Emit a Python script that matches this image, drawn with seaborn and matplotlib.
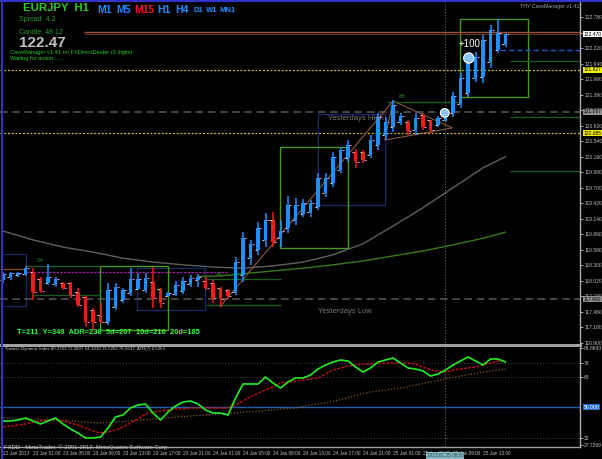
import matplotlib
matplotlib.use("Agg")
import matplotlib.pyplot as plt
import matplotlib.transforms as mtransforms
from matplotlib.lines import Line2D
from matplotlib.patches import Rectangle, Polygon
import seaborn as sns

# EURJPY H1 candles, 22 Jan 21:00 -> 25 Jan 16:00 (68 bars)
opens = [118.037, 118.091, 118.127, 118.145, 118.181, 118.055, 117.982, 117.964, 117.982, 117.982,
         117.820, 117.730, 117.495, 117.405, 117.279, 117.549, 117.676, 117.802, 117.874, 117.856,
         118.001, 117.874, 117.748, 117.784, 117.838, 117.964, 118.037, 118.019, 117.982, 117.892,
         117.856, 117.820, 118.127, 118.433, 118.578, 118.758, 119.119, 118.794, 118.974, 119.119,
         119.227, 119.263, 119.353, 119.606, 119.786, 120.021, 120.237, 120.345, 120.345, 120.291,
         120.471, 120.652, 120.796, 120.886, 120.886, 120.742, 121.013, 120.922, 120.832, 120.922,
         121.049, 121.211, 121.409, 121.680, 121.698, 121.969, 122.185, 122.293]
highs = [118.181, 118.181, 118.181, 118.289, 118.253, 118.091, 118.325, 118.091, 118.001, 118.001,
         117.892, 117.748, 117.531, 117.621, 117.982, 117.982, 117.892, 118.253, 118.163, 118.163,
         118.271, 117.892, 117.820, 118.019, 118.091, 118.127, 118.145, 118.091, 118.037, 117.910,
         117.874, 118.451, 118.902, 118.758, 119.083, 119.245, 119.263, 119.119, 119.552, 119.515,
         119.497, 119.479, 119.966, 119.966, 120.345, 120.435, 120.562, 120.399, 120.381, 120.652,
         121.049, 120.977, 121.283, 121.049, 120.922, 121.049, 121.049, 120.922, 120.995, 121.103,
         121.427, 121.770, 122.131, 122.149, 122.456, 122.636, 122.744, 122.492]
lows = [117.982, 118.037, 118.091, 118.109, 117.676, 117.802, 117.946, 117.910, 117.856, 117.712,
        117.549, 117.189, 117.135, 117.261, 117.225, 117.495, 117.621, 117.748, 117.856, 117.802,
        117.531, 117.531, 117.730, 117.748, 117.784, 117.910, 117.910, 117.856, 117.621, 117.549,
        117.694, 117.766, 118.001, 118.307, 118.487, 118.632, 118.632, 118.632, 118.884, 119.028,
        119.173, 119.173, 119.299, 119.534, 119.714, 119.966, 120.165, 120.057, 120.147, 120.237,
        120.381, 120.562, 120.706, 120.832, 120.652, 120.652, 120.742, 120.688, 120.796, 120.886,
        120.977, 121.139, 121.337, 121.608, 121.590, 121.860, 122.131, 122.239]
closes = [118.145, 118.163, 118.163, 118.253, 117.820, 117.838, 118.091, 118.055, 117.892, 117.766,
          117.585, 117.279, 117.279, 117.279, 117.856, 117.910, 117.856, 118.055, 118.055, 118.073,
          117.712, 117.621, 117.802, 117.946, 118.019, 118.073, 118.091, 117.892, 117.712, 117.694,
          117.748, 118.361, 118.794, 118.686, 118.974, 119.119, 118.722, 118.920, 119.389, 119.389,
          119.425, 119.425, 119.876, 119.876, 120.255, 120.381, 120.471, 120.165, 120.201, 120.562,
          120.977, 120.886, 121.193, 120.995, 120.724, 120.959, 120.796, 120.742, 120.959, 121.067,
          121.355, 121.680, 122.041, 122.059, 122.365, 122.546, 122.492, 122.470]
bars = list(range(len(closes)))

# moving averages on the price chart (sampled every 4 bars)
ma_bars = [0, 4, 8, 12, 16, 20, 24, 28, 32, 36, 40, 44, 48, 52, 56, 60, 64, 67]
grey_ma = [118.92, 118.76, 118.63, 118.54, 118.43, 118.36, 118.31, 118.27, 118.25, 118.29,
           118.36, 118.49, 118.69, 119.01, 119.34, 119.70, 120.06, 120.26]
green_ma_bars = [26, 29, 32, 36, 40, 44, 48, 52, 56, 60, 64, 67]
green_ma = [118.10, 118.11, 118.15, 118.20, 118.25, 118.31, 118.38, 118.47, 118.56, 118.67, 118.79, 118.90]

# Traders Dynamic Index
tdi_green = [41.87, 41.87, 42.46, 43.64, 41.87, 40.10, 41.87, 43.64, 40.10, 37.16,
             34.80, 31.85, 31.85, 32.44, 37.74, 44.23, 45.40, 49.53, 51.30, 51.88,
             46.58, 42.46, 47.17, 50.71, 53.06, 53.65, 51.88, 48.35, 46.58, 46.58,
             45.40, 55.42, 63.67, 63.67, 63.67, 67.79, 64.26, 61.31, 64.85, 67.20,
             67.20, 68.97, 72.51, 74.86, 76.63, 77.81, 77.22, 73.69, 70.74, 73.10,
             76.63, 77.81, 78.99, 76.04, 73.10, 72.51, 71.33, 68.38, 69.56, 71.92,
             74.86, 77.22, 79.58, 77.22, 74.86, 78.40, 78.40, 76.63]
tdi_red = [38.33, 38.92, 39.51, 40.10, 41.28, 41.87, 42.46, 42.46, 41.87, 40.69,
           39.51, 37.74, 35.98, 34.80, 35.39, 36.57, 38.33, 40.69, 43.05, 45.99,
           47.17, 47.76, 48.35, 48.94, 48.94, 49.53, 49.53, 49.53, 49.53, 49.53,
           49.53, 51.30, 53.65, 56.01, 58.37, 60.13, 61.90, 64.26, 64.85, 65.44,
           66.03, 66.62, 67.20, 69.56, 71.92, 73.10, 74.27, 74.86, 75.45, 75.45,
           76.04, 76.04, 76.04, 76.04, 76.04, 75.45, 73.69, 71.92, 71.33, 70.74,
           71.92, 72.51, 73.10, 73.69, 74.86, 76.04, 77.22, 77.81]
tdi_base = [43.64, 43.64, 43.35, 43.05, 43.05, 42.76, 42.46, 42.46, 42.16, 41.87,
            41.57, 41.28, 40.98, 40.69, 40.98, 41.28, 41.57, 41.87, 42.46, 42.76,
            43.05, 43.35, 43.64, 44.23, 44.52, 44.81, 45.11, 45.40, 45.70, 45.99,
            46.29, 46.58, 47.17, 47.47, 47.76, 48.06, 48.35, 48.94, 49.24, 49.53,
            50.41, 51.30, 51.88, 52.47, 53.36, 54.54, 55.71, 56.89, 58.07, 58.96,
            59.54, 60.13, 60.72, 61.31, 62.20, 63.08, 63.96, 64.85, 65.73, 66.62,
            67.50, 68.38, 69.27, 69.86, 70.74, 71.33, 71.92, 72.51]

# levels and boxes (price)
yellow_levels = [121.827, 120.685]
yesterday_high = 121.067
yesterday_low = 117.692
current_price = 122.470
# (bar from, bar to, price low, price high)
green_boxes = [(12.93, 22.0, 117.135, 118.289), (36.93, 46.0, 118.614, 120.435), (60.93, 70.0, 121.337, 122.744)]
blue_boxes = [(-0.15, 3.07, 117.567, 118.505), (17.87, 26.93, 117.495, 118.253), (42.0, 50.93, 119.389, 121.031)]
# (bar from, bar to, price)
pivot_lines = [(2.9, 12.9, 118.289), (4.0, 12.9, 117.766), (27.0, 37.0, 118.054), (27.0, 37.0, 117.586),
               (51.2, 61.0, 121.247), (67.6, 77.0, 121.987), (67.6, 77.0, 120.977), (67.6, 77.0, 120.000)]
pivot_labels = [(4.9, 118.34, "54"), (28.8, 118.09, "46"), (53.2, 121.30, "88")]
price_ticks = [116.900 + 0.28 * k for k in range(22)]
time_ticks = [0, 4, 8, 12, 16, 20, 24, 28, 32, 36, 40, 44, 48, 52, 56, 60, 64]
time_labels = ["22 Jan 2013", "23 Jan 01:00", "23 Jan 05:00", "23 Jan 09:00", "23 Jan 13:00",
               "23 Jan 17:00", "23 Jan 21:00", "24 Jan 01:00", "24 Jan 05:00", "24 Jan 09:00",
               "24 Jan 13:00", "24 Jan 17:00", "24 Jan 21:00", "25 Jan 01:00", "25 Jan 05:00",
               "25 Jan 09:00", "25 Jan 13:00"]
cursor_bar = 58.93

sns.set_style("dark", {"axes.facecolor": "black", "figure.facecolor": "black"})
plt.rcParams['font.family'] = ['Liberation Sans', 'DejaVu Sans']

W, H = 602, 459
fig = plt.figure(figsize=(W / 100, H / 100), dpi=100)
fig.patch.set_facecolor("black")
ax = fig.add_axes([0, 1 - 345 / H, 580 / W, 345 / H])
ind = fig.add_axes([0, 1 - 447 / H, 580 / W, 100 / H])
for a in (ax, ind):
    a.set_facecolor("black")
    a.set_xlim(-0.4, 76.93)
    a.grid(False)
    for s in ("top", "left"):
        a.spines[s].set_visible(False)
    a.spines["right"].set_color("#b0b0b0")
    a.spines["right"].set_linewidth(1)
    a.yaxis.tick_right()
    a.tick_params(axis="y", colors="#c0c0c0", labelsize=3.6, length=2, pad=1, width=0.6)
ax.set_ylim(116.864, 123.087)
ind.set_ylim(26.55, 85.47)
ax.spines["bottom"].set_color("#a0a0a0")
ax.spines["bottom"].set_linewidth(2.2)
ind.spines["bottom"].set_color("#a0a0a0")
ind.spines["bottom"].set_linewidth(1)

# price axis
ax.set_yticks(price_ticks)
ax.set_yticklabels([f"{t:.3f}" for t in price_ticks])
ax.set_xticks([])

# horizontal levels
for lv in yellow_levels:
    ax.axhline(lv, color="#d4c21a", lw=0.9, ls=(0, (1.5, 1.5)))
for lv in (yesterday_high, yesterday_low):
    ax.axhline(lv, color="#5a5a5a", lw=1.1, ls=(0, (5, 3)))
ax.hlines(122.505, 10.8, 77, color="#a0522d", lw=1)
ax.hlines(current_price, 10.8, 77, color="#5a3a20", lw=0.8)
ax.hlines(122.185, 66.3, 77, color="#1e50d0", lw=1, ls=(0, (4, 2)))
ax.hlines(118.181, 3, 30, color="#a020a0", lw=0.9, ls=(0, (2, 1)))
ax.hlines(118.235, -0.4, 3, color="#8b4513", lw=1)
for b0, b1, p in pivot_lines:
    ax.hlines(p, b0, b1, color="#1d5a1d", lw=1)
for b, p, t in pivot_labels:
    ax.text(b, p, t, color="#2a7a2a", fontsize=4.5, ha="center", va="bottom")

# boxes
for b0, b1, p0, p1 in blue_boxes:
    ax.add_patch(Rectangle((b0, p0), b1 - b0, p1 - p0, fill=False, ec="#1a2a6a", lw=0.9))
for b0, b1, p0, p1 in green_boxes:
    ax.add_patch(Rectangle((b0, p0), b1 - b0, p1 - p0, fill=False, ec="#4a9a1a", lw=1))

# moving averages
sns.lineplot(x=ma_bars, y=grey_ma, ax=ax, color="#606060", lw=1)
sns.lineplot(x=green_ma_bars, y=green_ma, ax=ax, color="#3a7a1a", lw=1)

# trend line and triangle
ax.plot([28.9, 52.0], [117.55, 121.265], color="#8b5a3c", lw=0.8)
ax.add_patch(Polygon([(52.0, 121.265), (59.9, 120.78), (50.9, 120.56)], closed=True, fill=False,
                     ec="#8b5a3c", lw=0.8))

# candles
for i in bars:
    up = closes[i] >= opens[i]
    col = "#1e8fff" if up else "#ee1c1c"
    ax.vlines(i, lows[i], highs[i], color=col, lw=1.1, zorder=3)
    ax.bar(i, closes[i] - opens[i], bottom=opens[i], width=0.42, color=col, zorder=3, linewidth=0)
    ax.hlines(opens[i], i - 0.45, i - 0.15, color="#e0e0e0", lw=0.7, zorder=4)
    ax.hlines(closes[i], i + 0.15, i + 0.45, color="#ff90ff", lw=0.7, zorder=4)

# markers
ax.scatter([62.1, 58.9], [122.04, 121.05], s=[55, 40], color="#8cc4f4", edgecolor="white", lw=0.8, zorder=5)
ax.text(60.7, 122.29, "+100", color="white", fontsize=7, ha="left", va="center")
ax.axvline(cursor_bar, color="#708070", lw=0.7, ls=(0, (1, 2)))
ax.text(43.3, 120.95, "Yesterdays High", color="#7a7a7a", fontsize=5.5, va="center")
ax.text(42.0, 117.46, "Yesterdays Low", color="#7a7a7a", fontsize=5.5, va="center")

# highlighted price labels
tr = mtransforms.blended_transform_factory(ax.transAxes, ax.transData)
for p, bg in [(current_price, "white"), (121.827, "#f0f000"), (yesterday_high, "#909090"),
              (120.685, "#f0f000"), (yesterday_low, "#909090")]:
    ax.text(1.006, p, f"{p:.3f}", transform=tr, fontsize=3.6, color="black", va="center", ha="left",
            bbox=dict(boxstyle="square,pad=0.12", fc=bg, ec="none"), zorder=6)

# indicator panel
ind.axhline(50, color="#1f5fb0", lw=1)
for lv in (76, 68, 32):
    ind.axhline(lv, color="#4a4a4a", lw=0.7, ls=(0, (1, 2)))
sns.lineplot(x=bars, y=tdi_base, ax=ind, color="#8b5a2b", lw=0.9, ls=(0, (1, 1.5)))
sns.lineplot(x=bars, y=tdi_red, ax=ind, color="#c81010", lw=1, ls=(0, (2, 1)))
sns.lineplot(x=bars, y=tdi_green, ax=ind, color="#22ee22", lw=1.2)
ind.axvline(cursor_bar, color="#708070", lw=0.7, ls=(0, (1, 2)))
ind.set_yticks([84.8843, 76, 68, 32, 27.7269])
ind.set_yticklabels(["84.8843", "76", "68", "32", "27.7269"])
tri = mtransforms.blended_transform_factory(ind.transAxes, ind.transData)
ind.text(1.006, 50, "50.000", transform=tri, fontsize=3.6, color="white", va="center", ha="left",
         bbox=dict(boxstyle="square,pad=0.12", fc="#1f6fd0", ec="none"))
ind.set_xticks(time_ticks)
ind.set_xticklabels(time_labels, ha="left")
ind.tick_params(axis="x", colors="#c0c0c0", labelsize=3.4, length=2, pad=1, width=0.6)
ind.set_xlabel("")
ind.set_ylabel("")
ax.set_xlabel("")
ax.set_ylabel("")
trx = mtransforms.blended_transform_factory(ind.transData, ind.transAxes)
ind.text(cursor_bar, -0.085, "2013.01.25 08:00", transform=trx, fontsize=3.4, color="#404040",
         ha="center", va="center", zorder=10,
         bbox=dict(boxstyle="square,pad=0.2", fc="#7fb8c0", ec="none"))


def px(x, y):
    return x / W, 1 - y / H


# screen texts
fig.text(*px(23, 3), "EURJPY  H1", color="#2ec82e", fontsize=8.2, fontweight="bold", va="top")
for t, x, c in [("M1", 97, "#1e8fff"), ("M5", 116, "#1e8fff"), ("M15", 134, "#e02020"),
                ("H1", 157, "#1e8fff"), ("H4", 175, "#1e8fff")]:
    fig.text(*px(x, 5), t, color=c, fontsize=7.5, fontweight="bold", va="top")
for t, x in [("D1", 193), ("W1", 206), ("MN1", 220)]:
    fig.text(*px(x, 7), t, color="#1e8fff", fontsize=5.5, fontweight="bold", va="top")
fig.text(*px(19, 16), "Spread  4.2", color="#2a9a2a", fontsize=5, va="top")
fig.text(*px(19, 29), "Candle  48:12", color="#2a9a2a", fontsize=5, va="top")
fig.text(*px(19, 36), "122.47", color="#c0c0c0", fontsize=11, fontweight="bold", va="top")
fig.text(*px(10, 50), "CaveManager v1.41 on FXDirectDealer (3 digits)", color="#22cc22", fontsize=4.1, va="top")
fig.text(*px(10, 56), "Waiting for action ......", color="#22cc22", fontsize=4.1, va="top")
fig.text(*px(520, 4), "THY CaveManager v1.41", color="#a0a0a0", fontsize=3.8, va="top")
fig.text(*px(17, 329), "T=211  Y=349  ADR=238  5d=207  10d=210  20d=185", color="#33ff33",
         fontsize=5.4, fontweight="bold", va="top")
fig.text(*px(5, 347), "Traders Dynamic Index 80.2763 72.2897 64.1416 75.5252 76.5637  ATR(7) 0.5263",
         color="#c8c8c8", fontsize=3.2, va="top")
fig.text(*px(4, 444), "FXDD - MetaTrader, \u00a9 2001-2012, MetaQuotes Software Corp.", color="#c8c8c8",
         fontsize=4.2, va="top")

# window frame
fig.add_artist(Line2D([1.5 / W, 1.5 / W], [0, 1], color="#3333cc", lw=1.5))
fig.add_artist(Line2D([0, 1], [1 - 1 / H, 1 - 1 / H], color="#3333cc", lw=1.5))

fig.savefig("out.png", dpi=100, facecolor="black")
